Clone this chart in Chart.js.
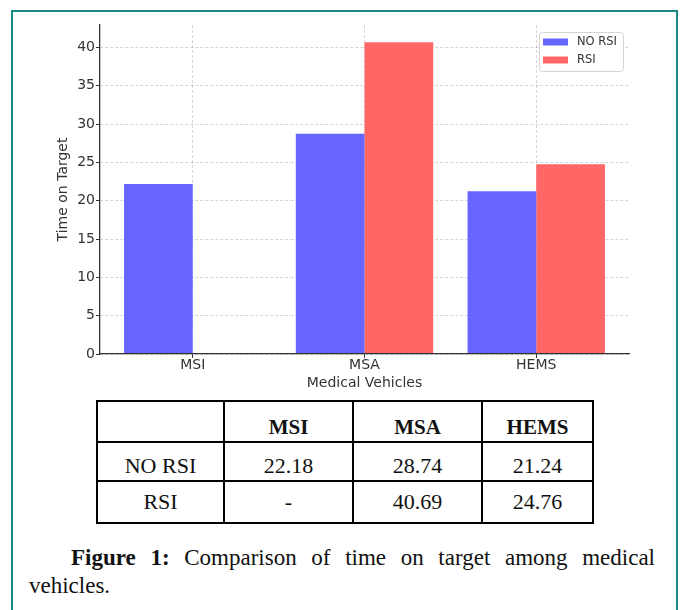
<!DOCTYPE html>
<html lang="en">
<head>
<meta charset="UTF-8">
<title>Time on Target among medical vehicles</title>
<script src="https://cdn.jsdelivr.net/npm/chart.js@4.4.1/dist/chart.umd.min.js"></script>
<style>
  body { margin: 0; background: #fff; width: 680px; height: 610px; overflow: hidden; position: relative; }
  .frame { position: absolute; left: 11px; top: 10px; width: 667px; height: 640px; box-sizing: border-box; border: 2px solid #178a86; }
  #chartWrap { position: absolute; left: 0; top: 0; width: 680px; height: 400px; }
  table.values {
    position: absolute; left: 96px; top: 400px; width: 496px;
    border-collapse: collapse; table-layout: fixed;
    font-family: 'Liberation Serif', serif; color: #111;
  }
  table.values td, table.values th { border: 2px solid #000; text-align: center; padding: 0; }
  table.values th { font-size: 21px; font-weight: bold; height: 41px; padding-top: 12px; box-sizing: border-box; }
  table.values tr.r1 td { font-size: 22px; height: 39px; padding-top: 8px; box-sizing: border-box; }
  table.values tr.r2 td { font-size: 22px; height: 40px; }
  .caption { position: absolute; font-family: 'Liberation Serif', serif; font-size: 23px; color: #111; white-space: nowrap; }
  .line1 { left: 71px; width: 584px; top: 545px; text-align: justify; text-align-last: justify; white-space: normal; }
  .line2 { left: 29px; top: 573px; }
</style>
</head>
<body>
  <div class="frame"></div>
  <div id="chartWrap"><canvas id="bars" width="680" height="400"></canvas></div>
  <table class="values" id="valueTable">
    <colgroup><col style="width:127px"><col style="width:129px"><col style="width:129px"><col style="width:111px"></colgroup>
  </table>
  <div class="caption line1"><b>Figure 1:</b> Comparison of time on target among medical</div>
  <div class="caption line2">vehicles.</div>

  <script>
    // data
    const categories = ['MSI', 'MSA', 'HEMS'];
    const seriesNames = ['NO RSI', 'RSI'];
    const noRsi = [22.18, 28.74, 21.24];
    const rsi = [null, 40.69, 24.76];
    const yTicks = [0, 5, 10, 15, 20, 25, 30, 35, 40];
    const colors = ['#6666ff', '#ff6666'];

    // table under the chart
    const table = document.getElementById('valueTable');
    let html = '<tr><th></th>' + categories.map(c => '<th>' + c + '</th>').join('') + '</tr>';
    [noRsi, rsi].forEach((arr, i) => {
      html += '<tr class="r' + (i + 1) + '"><td>' + seriesNames[i] + '</td>' +
        arr.map(v => '<td>' + (v === null ? '-' : v.toFixed(2)) + '</td>').join('') + '</tr>';
    });
    table.insertAdjacentHTML('beforeend', html);

    const toPoints = arr => arr.map((v, i) => ({ x: i, y: v }));
    const yMax = Math.max(...noRsi, ...rsi.filter(v => v !== null)) * 1.055;

    // legend box, drawn in the top right corner of the plot
    const legendBox = {
      id: 'legendBox',
      afterDatasetsDraw(chart) {
        const { ctx, chartArea } = chart;
        const w = 84, h = 39;
        const x = chartArea.right - 6 - w, y = chartArea.top + 7;
        ctx.save();
        ctx.fillStyle = 'rgba(255,255,255,0.85)';
        ctx.strokeStyle = '#d4d4d4';
        ctx.lineWidth = 1;
        ctx.beginPath();
        ctx.roundRect(x + 0.5, y + 0.5, w, h, 3);
        ctx.fill();
        ctx.stroke();
        ctx.font = '11.5px "DejaVu Sans"';
        ctx.textBaseline = 'middle';
        chart.data.datasets.forEach((ds, i) => {
          const cy = y + 10 + i * 18;
          ctx.fillStyle = ds.backgroundColor;
          ctx.fillRect(x + 4, cy - 3.5, 25, 7);
          ctx.fillStyle = '#333';
          ctx.fillText(ds.label, x + 38, cy);
        });
        ctx.restore();
      }
    };

    const tickFont = { family: 'DejaVu Sans', size: 14 };
    const gridColor = 'rgba(0,0,0,0.16)';

    new Chart(document.getElementById('bars'), {
      type: 'bar',
      data: {
        datasets: [
          { label: seriesNames[0], data: toPoints(noRsi), backgroundColor: colors[0], borderWidth: 0 },
          { label: seriesNames[1], data: toPoints(rsi), backgroundColor: colors[1], borderWidth: 0 }
        ]
      },
      options: {
        responsive: false,
        animation: false,
        devicePixelRatio: 1,
        categoryPercentage: 0.8,
        barPercentage: 1.0,
        layout: { padding: { left: 50, top: 25, right: 51, bottom: 0 } },
        plugins: { legend: { display: false }, tooltip: { enabled: false } },
        scales: {
          x: {
            type: 'linear',
            offset: false,
            min: -0.54,
            max: 2.54,
            afterBuildTicks: s => { s.ticks = categories.map((c, i) => ({ value: i })); },
            afterFit: s => { s.height = 46; },
            ticks: {
              font: tickFont, color: '#333', padding: -1,
              callback: v => categories[v]
            },
            grid: { color: gridColor, offset: false, tickColor: '#333', tickLength: 4, tickWidth: 1, tickBorderDash: [] },
            border: { display: true, color: '#333', width: 1.3, dash: [3, 2], z: 1 },
            title: { display: true, text: 'Medical Vehicles', font: tickFont, color: '#333', padding: { top: 0, bottom: 8 } }
          },
          y: {
            min: 0,
            max: yMax,
            afterBuildTicks: s => { s.ticks = yTicks.map(v => ({ value: v })); },
            afterFit: s => { s.width = 50; },
            ticks: { font: tickFont, color: '#333', padding: 1 },
            grid: { color: gridColor, tickColor: '#333', tickLength: 4, tickWidth: 1, tickBorderDash: [] },
            border: { display: true, color: '#333', width: 1.3, dash: [3, 2], z: 1 },
            title: { display: true, text: 'Time on Target', font: tickFont, color: '#333', padding: { top: 5, bottom: 0 } }
          }
        }
      },
      plugins: [legendBox]
    });
  </script>
</body>
</html>
